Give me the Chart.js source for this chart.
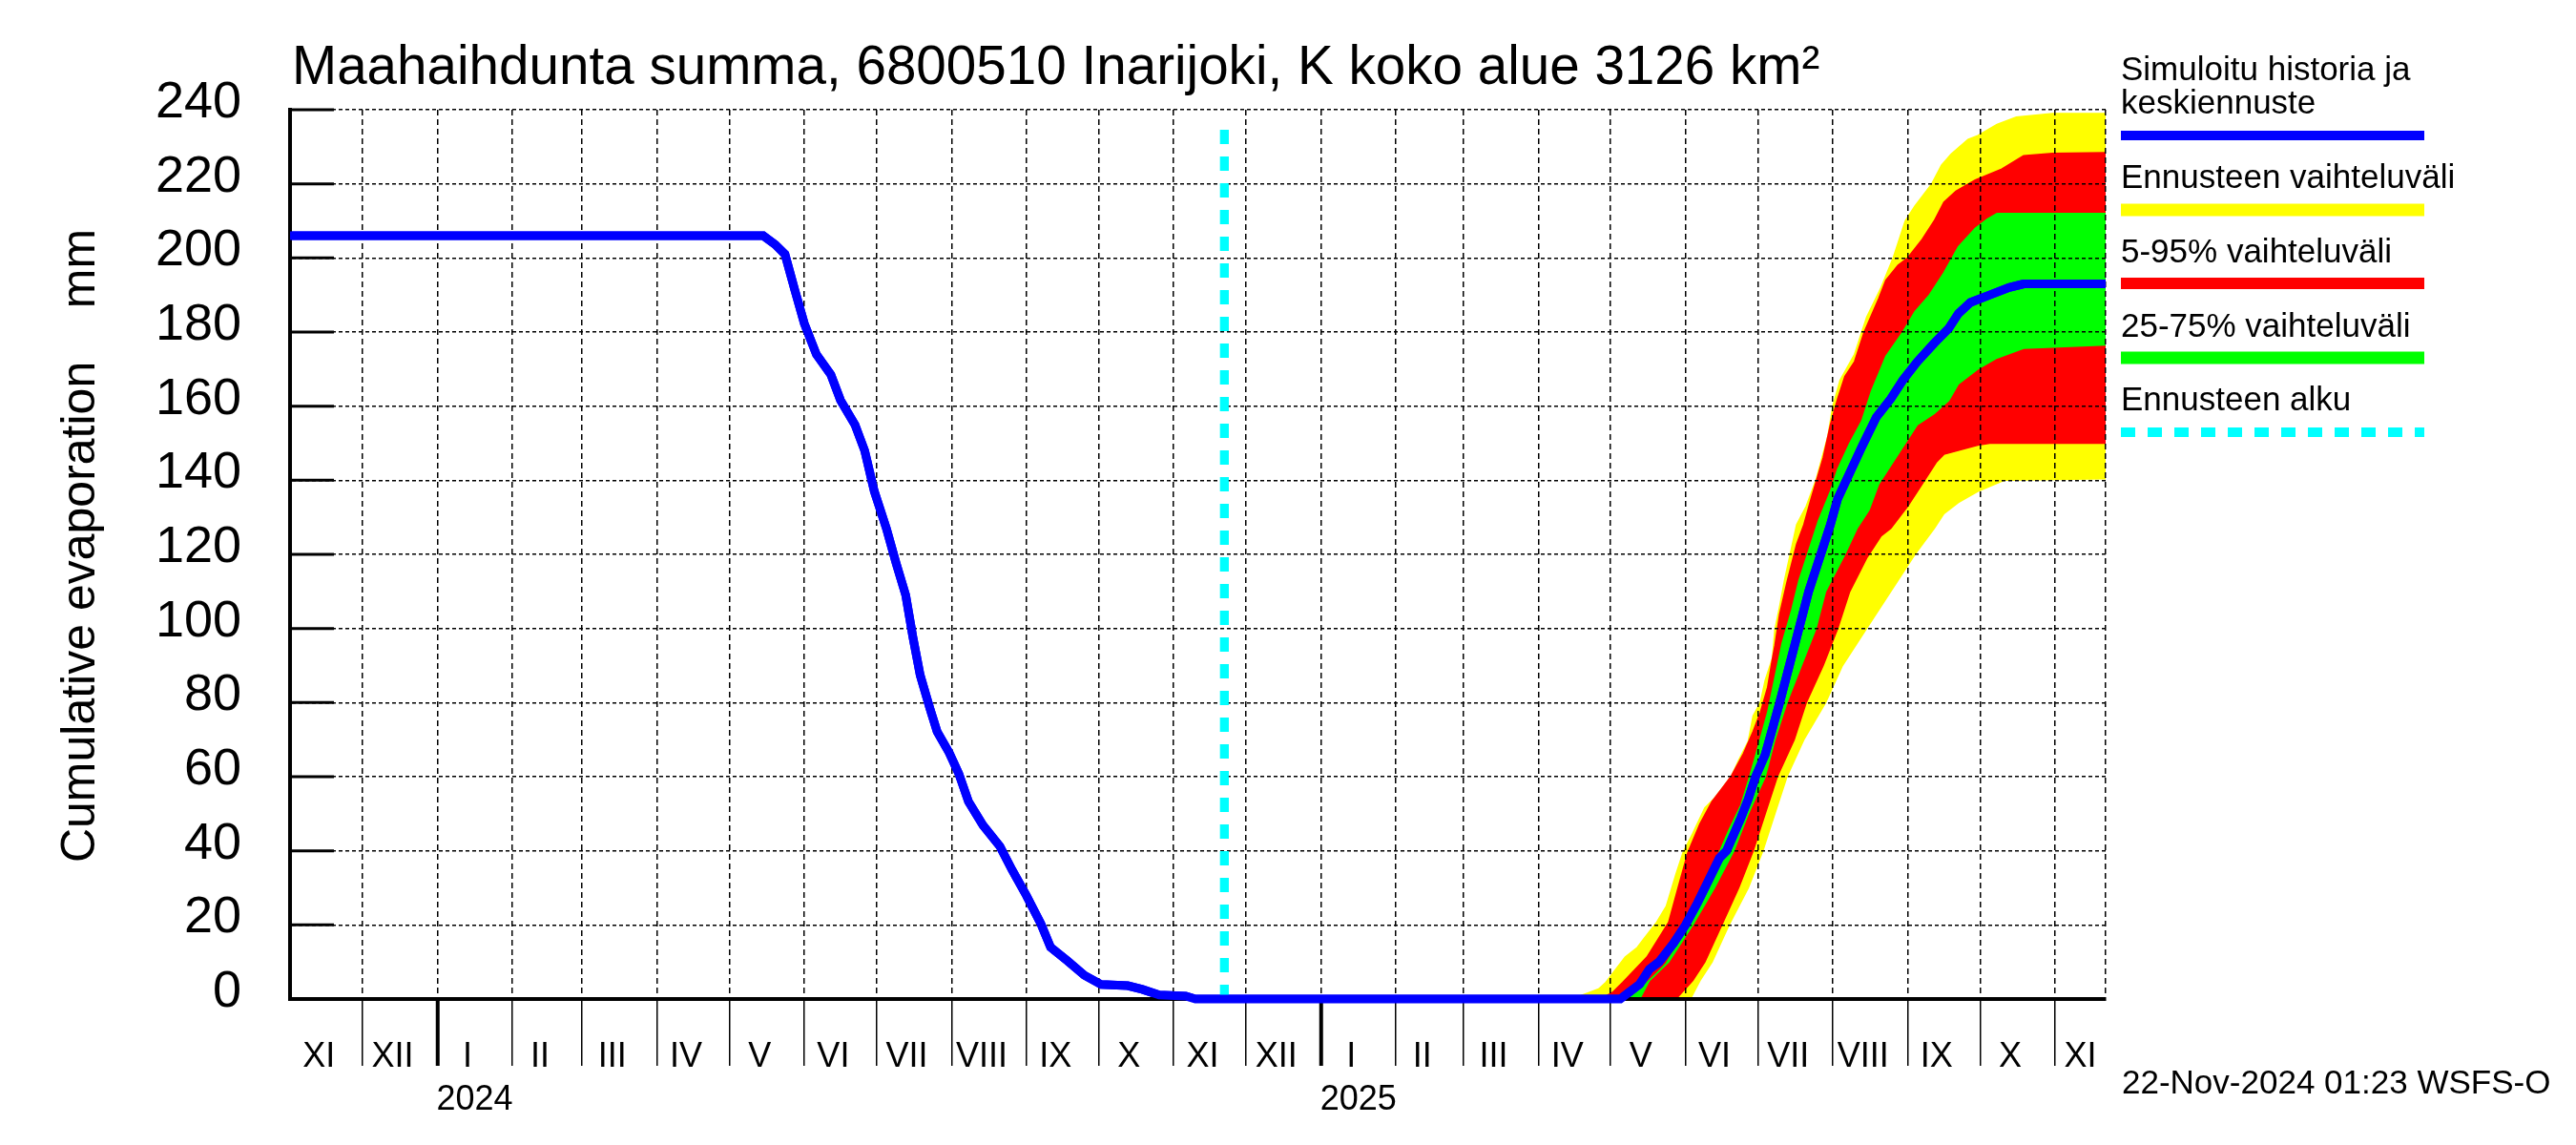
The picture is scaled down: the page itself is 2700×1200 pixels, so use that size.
<!DOCTYPE html>
<html>
<head>
<meta charset="utf-8">
<script src="https://cdn.jsdelivr.net/npm/chart.js"></script>
<style>
  html, body { margin: 0; padding: 0; background: #fff; }
  canvas { display: block; }
</style>
</head>
<body>
<canvas id="chart" width="2700" height="1200"></canvas>
<script>
// simulated history + mean forecast (mm)
const histDates = ['2023-11-01','2024-05-15','2024-05-20','2024-05-24','2024-05-28','2024-06-01','2024-06-06','2024-06-12','2024-06-16','2024-06-22','2024-06-26','2024-06-30','2024-07-05','2024-07-09','2024-07-13','2024-07-16','2024-07-19','2024-07-23','2024-07-26','2024-07-31','2024-08-04','2024-08-08','2024-08-14','2024-08-21','2024-08-26','2024-09-01','2024-09-07','2024-09-11','2024-09-18','2024-09-25','2024-10-02','2024-10-13','2024-10-19','2024-10-26','2024-11-06','2024-11-10','2024-11-22'];
const histValues = [206,206,203.6,201,191.5,182.3,174,168.5,161.6,155,148,137,127,117.7,109,97.6,87.4,78.5,72.2,66.5,60.8,53.3,46.9,41.2,34.9,27.9,20.3,14,10.3,6.4,3.9,3.6,2.6,1.1,0.8,0,0];

const meanDates = ['2025-05-05','2025-05-08','2025-05-13','2025-05-17','2025-05-21','2025-05-27','2025-06-01','2025-06-06','2025-06-09','2025-06-15','2025-06-18','2025-06-24','2025-06-27','2025-06-30','2025-07-04','2025-07-07','2025-07-10','2025-07-14','2025-07-18','2025-07-22','2025-07-27','2025-07-31','2025-08-03','2025-08-08','2025-08-13','2025-08-19','2025-08-25','2025-08-30','2025-09-05','2025-09-12','2025-09-18','2025-09-22','2025-09-27','2025-10-05','2025-10-13','2025-10-19','2025-10-31','2025-11-22'];
const meanValues = [0,1.5,4,8,10,15,20,26,30,38,40,49,54,60,66,73,80,90,100,110,120,128,135,142,149,157,162,167,172,177,181,185,188,190,192,193,193,193];

// forecast range (yellow)
const maxDates = ['2024-11-22','2025-04-15','2025-04-26','2025-04-29','2025-05-03','2025-05-07','2025-05-12','2025-05-15','2025-05-20','2025-05-24','2025-05-28','2025-05-31','2025-06-04','2025-06-09','2025-06-13','2025-06-16','2025-06-20','2025-06-23','2025-06-27','2025-06-29','2025-07-02','2025-07-04','2025-07-07','2025-07-08','2025-07-10','2025-07-12','2025-07-14','2025-07-17','2025-07-21','2025-07-25','2025-07-30','2025-08-01','2025-08-04','2025-08-10','2025-08-15','2025-08-21','2025-08-26','2025-08-31','2025-09-04','2025-09-11','2025-09-15','2025-09-19','2025-09-26','2025-09-30','2025-10-08','2025-10-16','2025-10-31','2025-11-22'];
const maxValues = [0,0,2.7,4.5,7.9,11.3,13.9,16.5,20.7,25,33.6,39.6,44.7,51.6,54.2,56.7,60.2,64.4,69.6,76.4,80,86,92,99.6,106,113,119,128,133,140,152,160,167,174,184,192,200,210,214,220,225,228,232,233,236,238,239,239];
const minDates = ['2024-11-22','2025-06-03','2025-06-07','2025-06-12','2025-06-19','2025-06-27','2025-07-03','2025-07-08','2025-07-13','2025-07-20','2025-07-29','2025-08-05','2025-08-15','2025-08-25','2025-09-04','2025-09-12','2025-09-16','2025-09-22','2025-09-30','2025-10-11','2025-11-22'];
const minValues = [0,0,5,10,20,30,40,50,60,70,80,90,100,110,120,127,131,134,137,140,140.4];

// 5-95% (red)
const p95Dates = ['2024-11-22','2025-04-27','2025-05-02','2025-05-06','2025-05-11','2025-05-16','2025-05-21','2025-05-25','2025-05-29','2025-06-02','2025-06-07','2025-06-12','2025-06-16','2025-06-20','2025-06-25','2025-06-29','2025-07-02','2025-07-05','2025-07-07','2025-07-08','2025-07-10','2025-07-13','2025-07-17','2025-07-20','2025-07-23','2025-07-28','2025-07-31','2025-08-03','2025-08-06','2025-08-10','2025-08-14','2025-08-20','2025-08-23','2025-08-28','2025-09-01','2025-09-07','2025-09-12','2025-09-16','2025-09-21','2025-09-29','2025-10-10','2025-10-19','2025-10-31','2025-11-22'];
const p95Values = [0,0,1.9,4.5,7.9,11.3,16.5,20.7,30.2,39.6,47.3,53.3,56.7,60.2,66.2,72.2,77.3,84.1,91.9,95.3,103.9,112.4,122.7,128,135,146,155,162,168,172,180,189,194,198,200,205,210,215,218,221,224,227.6,228.2,228.4];
const p05Dates = ['2024-11-22','2025-05-28','2025-06-04','2025-06-09','2025-06-16','2025-06-23','2025-06-29','2025-07-04','2025-07-09','2025-07-16','2025-07-21','2025-07-28','2025-08-03','2025-08-08','2025-08-15','2025-08-21','2025-08-25','2025-09-01','2025-09-05','2025-09-10','2025-09-13','2025-09-16','2025-09-30','2025-10-05','2025-11-22'];
const p05Values = [0,0,5,10,20,30,40,50,60,70,80,90,100,110,119,125,127,133,137,142,145,147,149.5,150,150];

// 25-75% (green)
const p75Dates = ['2024-11-22','2025-05-05','2025-05-14','2025-05-19','2025-05-24','2025-05-28','2025-06-01','2025-06-05','2025-06-09','2025-06-12','2025-06-15','2025-06-19','2025-06-24','2025-06-28','2025-07-01','2025-07-05','2025-07-08','2025-07-11','2025-07-15','2025-07-18','2025-07-22','2025-07-26','2025-07-31','2025-08-03','2025-08-08','2025-08-13','2025-08-17','2025-08-23','2025-08-30','2025-09-04','2025-09-10','2025-09-16','2025-09-22','2025-09-29','2025-10-04','2025-10-08','2025-11-22'];
const p75Values = [0,0,3.2,6.2,9.6,13.9,18.2,22.5,28.4,33.6,39.6,45.6,52.4,61,67.9,77.3,86.7,96,105,113,121,129,137,143,150,156,164,173.5,180,185.5,190,196,203,208,210.5,212,212];
const p25Dates = ['2024-11-22','2025-05-13','2025-05-17','2025-05-25','2025-06-04','2025-06-13','2025-06-21','2025-06-27','2025-07-04','2025-07-08','2025-07-13','2025-07-19','2025-07-25','2025-07-29','2025-08-06','2025-08-11','2025-08-16','2025-08-20','2025-08-25','2025-08-30','2025-09-05','2025-09-12','2025-09-18','2025-09-22','2025-09-30','2025-10-08','2025-10-19','2025-11-22'];
const p25Values = [0,0,5,10,20,30,40,50,60,70,80,90,100,110,120,127,132,139,144,149,155,158,161.5,166,170,173,175.6,176.5];

const forecastStart = '2024-11-22';
const forecastLineTop = 237;
const axisStart = '2023-11-01';
const axisEnd = '2025-11-22';
const yTicks = [0,20,40,60,80,100,120,140,160,180,200,220,240];
const romans = ['I','II','III','IV','V','VI','VII','VIII','IX','X','XI','XII'];

const FONT = "'Liberation Sans', Arial, sans-serif";
Chart.defaults.font.family = FONT;
Chart.defaults.color = '#000';

const t0 = Date.parse(axisStart);
function dayOf(s) { return (Date.parse(s) - t0) / 864e5; }
function pts(dates, values) { return dates.map((d, i) => ({ x: dayOf(d), y: values[i] })); }
const xMax = dayOf(axisEnd);

// month boundaries + roman labels + year labels
const xTicks = [];
for (let y = 2023, m = 10; ;) {
  const s = (Date.UTC(y, m, 1) - t0) / 864e5;
  if (s >= xMax) break;
  const ny = m === 11 ? y + 1 : y, nm = (m + 1) % 12;
  const e = Math.min((Date.UTC(ny, nm, 1) - t0) / 864e5, xMax);
  if (s > 0) xTicks.push({ value: s, kind: m === 0 ? 'year' : 'month', txt: '' });
  xTicks.push({ value: (s + e) / 2 - (e - s >= 28 ? 3 : 0), kind: 'label', txt: romans[m] });
  if (m === 0) xTicks.push({ value: (s + e) / 2, kind: 'label', txt: ['', String(y)] });
  y = ny; m = nm;
}
xTicks.push({ value: xMax, kind: 'edge', txt: '' });
xTicks.sort((a, b) => a.value - b.value);

function band(data, color, target) {
  return { data, borderColor: color, backgroundColor: color, borderWidth: 1.5,
           pointRadius: 0, tension: 0, fill: target === undefined ? false : target };
}

const decor = {
  id: 'decor',
  afterDraw(chart) {
    const { ctx, chartArea: a, scales: { y } } = chart;
    // mean line and forecast start on top of the grid
    ctx.save();
    ctx.beginPath();
    ctx.rect(a.left, a.top - 6, a.right - a.left, a.bottom - a.top + 12);
    ctx.clip();
    chart.getDatasetMeta(1).dataset.draw(ctx, a);
    chart.getDatasetMeta(0).dataset.draw(ctx, a);
    ctx.restore();

    ctx.save();
    // inner y tick marks
    ctx.strokeStyle = '#000';
    ctx.lineWidth = 3;
    y.ticks.forEach(t => {
      const py = y.getPixelForValue(t.value);
      ctx.beginPath(); ctx.moveTo(a.left, py); ctx.lineTo(a.left + 46, py); ctx.stroke();
    });

    ctx.fillStyle = '#000';
    ctx.textBaseline = 'alphabetic';
    ctx.textAlign = 'left';
    ctx.font = '56.6px ' + FONT;
    ctx.fillText('Maahaihdunta summa, 6800510 Inarijoki, K koko alue 3126 km²', a.left + 2, 88);

    ctx.font = '35px ' + FONT;
    ctx.fillText('22-Nov-2024 01:23 WSFS-O', 2224, 1146);

    // legend
    const lx = 2223, lw = 318;
    const items = [
      { text: ['Simuloitu historia ja', 'keskiennuste'], base: 84, color: '#0000ff', ly: 142, w: 10 },
      { text: ['Ennusteen vaihteluväli'], base: 197, color: '#ffff00', ly: 220, w: 13 },
      { text: ['5-95% vaihteluväli'], base: 275, color: '#ff0000', ly: 297, w: 12 },
      { text: ['25-75% vaihteluväli'], base: 353, color: '#00ff00', ly: 375, w: 13 },
      { text: ['Ennusteen alku'], base: 430, color: '#00ffff', ly: 453, w: 10, dash: [15, 13] }
    ];
    items.forEach(it => {
      ctx.fillStyle = '#000';
      it.text.forEach((t, i) => ctx.fillText(t, lx, it.base + i * 35));
      ctx.strokeStyle = it.color;
      ctx.lineWidth = it.w;
      ctx.setLineDash(it.dash || []);
      ctx.beginPath(); ctx.moveTo(lx, it.ly); ctx.lineTo(lx + lw, it.ly); ctx.stroke();
    });
    ctx.setLineDash([]);

    // y axis title
    ctx.translate(99, 572);
    ctx.rotate(-Math.PI / 2);
    ctx.textAlign = 'center';
    ctx.font = '50px ' + FONT;
    ctx.fillStyle = '#000';
    ctx.fillText('Cumulative evaporation    mm', 0, 0);
    ctx.restore();
  }
};

new Chart(document.getElementById('chart'), {
  type: 'line',
  data: {
    datasets: [
      { data: pts(histDates.concat(meanDates), histValues.concat(meanValues)),
        borderColor: '#0000ff', borderWidth: 9, pointRadius: 0, tension: 0, fill: false },
      { data: [{ x: dayOf(forecastStart), y: 0 }, { x: dayOf(forecastStart), y: forecastLineTop }],
        borderColor: '#00ffff', borderWidth: 9, borderDash: [15, 13], pointRadius: 0, fill: false },
      band(pts(p75Dates, p75Values), '#00ff00', 3),
      band(pts(p25Dates, p25Values), '#00ff00'),
      band(pts(p95Dates, p95Values), '#ff0000', 5),
      band(pts(p05Dates, p05Values), '#ff0000'),
      band(pts(maxDates, maxValues), '#ffff00', 7),
      band(pts(minDates, minValues), '#ffff00')
    ]
  },
  options: {
    responsive: false,
    animation: false,
    devicePixelRatio: 1,
    layout: { padding: { left: 0, top: 115, right: 493, bottom: 0 } },
    plugins: { legend: { display: false }, title: { display: false }, tooltip: { enabled: false } },
    scales: {
      x: {
        type: 'linear', min: 0, max: xMax,
        afterBuildTicks: s => { s.ticks = xTicks.map(t => Object.assign({}, t)); },
        afterFit: s => { s.height = 153; },
        ticks: {
          autoSkip: false, maxRotation: 0, minRotation: 0, padding: -31,
          font: { size: 36, lineHeight: 1.25 }, color: '#000',
          callback: (v, i, ticks) => ticks[i].txt
        },
        grid: {
          z: 1, lineWidth: 1.5, tickLength: 70, tickBorderDash: [],
          color: c => (c.tick && c.tick.kind !== 'label') ? '#000' : 'rgba(0,0,0,0)',
          tickColor: c => (c.tick && (c.tick.kind === 'month' || c.tick.kind === 'year')) ? '#000' : 'rgba(0,0,0,0)',
          tickWidth: c => (c.tick && c.tick.kind === 'year') ? 4 : 1.5
        },
        border: { z: 2, color: '#000', width: 4, dash: [6, 4] }
      },
      y: {
        min: 0, max: 240,
        afterBuildTicks: s => { s.ticks = yTicks.map(v => ({ value: v })); },
        afterFit: s => { s.width = 304; },
        ticks: { font: { size: 54 }, color: '#000', padding: 51, labelOffset: -7 },
        grid: { z: 1, color: '#000', lineWidth: 1.5, drawTicks: false },
        border: { z: 2, color: '#000', width: 4, dash: [4, 3] }
      }
    }
  },
  plugins: [decor]
});
</script>
</body>
</html>
